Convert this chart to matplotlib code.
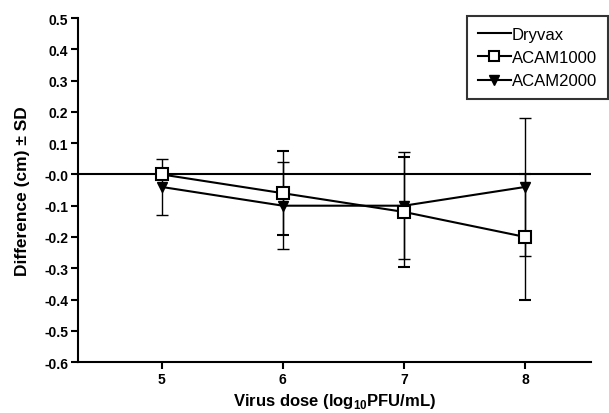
import matplotlib
matplotlib.use('Agg')
import matplotlib.pyplot as plt
from matplotlib.lines import Line2D

plt.rcParams['font.family'] = ['Liberation Sans', 'DejaVu Sans']
plt.rcParams['mathtext.fontset'] = 'custom'
plt.rcParams['mathtext.rm'] = 'Liberation Sans'
plt.rcParams['mathtext.bf'] = 'Liberation Sans:bold'

doses = [5, 6, 7, 8]
acam1000 = [0.0, -0.06, -0.12, -0.20]
acam1000_sd = [0.0, 0.135, 0.176, 0.20]
acam2000 = [-0.04, -0.10, -0.10, -0.04]
acam2000_sd = [0.09, 0.14, 0.172, 0.22]
yticks = [0.5, 0.4, 0.3, 0.2, 0.1, 0.0, -0.1, -0.2, -0.3, -0.4, -0.5, -0.6]
ytick_labels = ['0.5', '0.4', '0.3', '0.2', '0.1', '-0.0', '-0.1', '-0.2',
                '-0.3', '-0.4', '-0.5', '-0.6']

fig = plt.figure(figsize=(6.09, 4.14), dpi=100)
ax = fig.add_axes([0.128, 0.123, 0.842, 0.831])

# Dryvax reference line
ax.axhline(0, color='black', lw=1.5)

ax.errorbar(doses, acam1000, yerr=acam1000_sd, color='black', lw=1.5,
            marker='s', ms=8, mfc='white', mec='black', mew=1.5,
            ecolor='black', elinewidth=1.0, capsize=4, capthick=1.0, zorder=4)
ax.errorbar(doses, acam2000, yerr=acam2000_sd, color='black', lw=1.5,
            marker='v', ms=7, mfc='black', mec='black',
            ecolor='black', elinewidth=1.0, capsize=4, capthick=1.0, zorder=3)

ax.set_xlim(4.31, 8.54)
ax.set_ylim(-0.6, 0.5)
ax.set_xticks(doses)
ax.set_xticklabels([str(d) for d in doses], fontweight='bold', fontsize=10)
ax.set_yticks(yticks)
ax.set_yticklabels(ytick_labels, fontweight='bold', fontsize=10)

for s in ['top', 'right']:
    ax.spines[s].set_visible(False)
for s in ['left', 'bottom']:
    ax.spines[s].set_linewidth(1.5)
ax.tick_params(direction='out', length=5, width=1.5, pad=2)

ax.set_xlabel(r'Virus dose (log$_{\mathbf{10}}$PFU/mL)', fontweight='bold',
              fontsize=12, labelpad=4)
ax.set_ylabel('Difference (cm) \u00b1 SD', fontweight='bold', fontsize=12.5,
              labelpad=10)

handles = [
    Line2D([], [], color='black', lw=1.5),
    Line2D([], [], color='black', lw=1.5, marker='s', ms=7, mfc='white',
           mec='black', mew=1.5),
    Line2D([], [], color='black', lw=1.5, marker='v', ms=7, mfc='black',
           mec='black'),
]
leg = fig.legend(handles, ['Dryvax', 'ACAM1000', 'ACAM2000'],
                 loc='upper right', bbox_to_anchor=(0.998, 0.959),
                 borderaxespad=0, fontsize=12, frameon=True, fancybox=False,
                 edgecolor='black', handlelength=2.0, handletextpad=0.05,
                 borderpad=0.65, labelspacing=0.5)
leg.get_frame().set_linewidth(1.5)

plt.savefig('out.png', dpi=100)
